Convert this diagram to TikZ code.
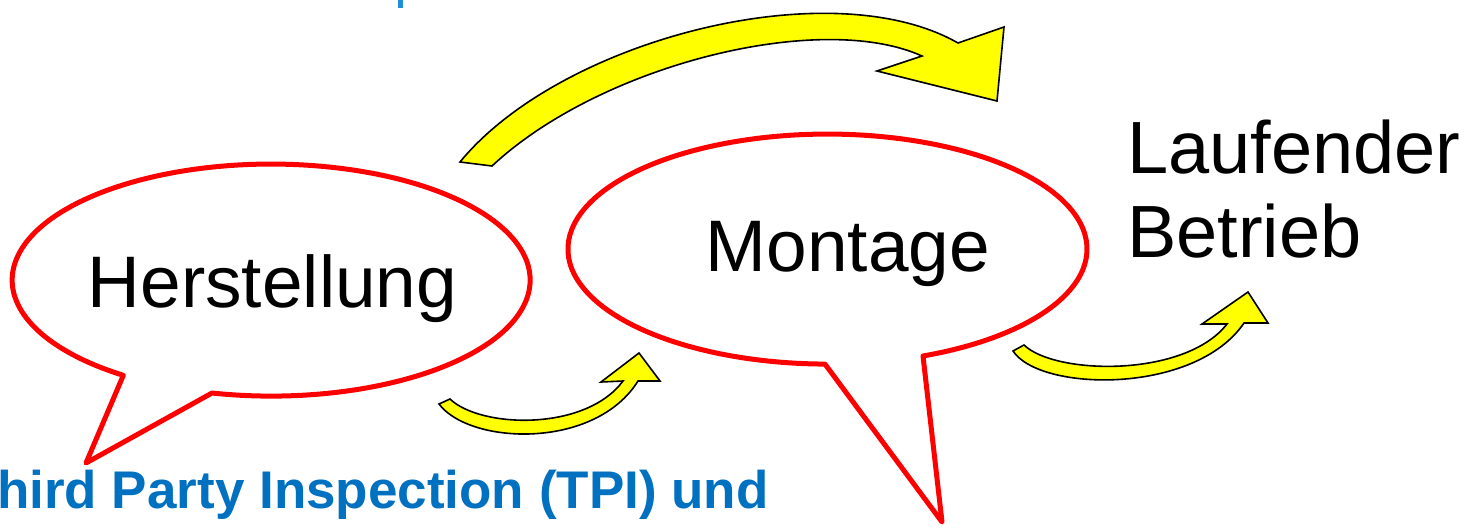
\documentclass[tikz,border=0pt]{standalone}
\usepackage{fontspec}
\setmainfont{Liberation Sans}
\definecolor{tpiblue}{HTML}{0070C0}
\definecolor{lineblue}{HTML}{1E8FD5}
\definecolor{calloutred}{HTML}{FF0000}
\definecolor{arrowyellow}{HTML}{FFFF00}
\tikzset{
  callout/.style={draw=calloutred, line width=5pt, fill=white, line join=round},
  bentarrow/.style={draw=black, line width=1.6pt, fill=arrowyellow, line join=miter},
  biglabel/.style={font=\fontsize{73}{84}\selectfont, inner sep=0pt},
  notelabel/.style={font=\fontsize{53}{60}\selectfont\bfseries, text=tpiblue, inner sep=0pt},
}
\begin{document}
\begin{tikzpicture}[x=1pt, y=-1pt]
  \useasboundingbox (0,0) rectangle (1475,528);
  \clip (0,0) rectangle (1475,528);

  % stroke of a line of text running off the top edge
  \fill[lineblue] (398,0) rectangle (402.5,8);

  % speech bubble: Herstellung
  \draw[callout] (212,393)
    arc[start angle=103.2, end angle=-235.2, x radius=259, y radius=116]
    -- (86,463) -- cycle;
  \node[biglabel, anchor=base] (herstellung) at (272.5,307) {Herstellung};

  % speech bubble: Montage
  \draw[callout] (923,356)
    arc[start angle=68.4, end angle=-269.45, x radius=259.5, y radius=115]
    -- (942,522) -- cycle;
  \node[biglabel, anchor=base] (montage) at (848,271) {Montage};

  % final stage
  \node[biglabel, anchor=base west, font=\fontsize{74}{84}\selectfont] (laufender) at (1127,173) {Laufender};
  \node[biglabel, anchor=base west, font=\fontsize{74}{84}\selectfont] (betrieb) at (1127,257) {Betrieb};

  % large curved arrow over the Montage bubble
  \draw[bentarrow] (460,162)
    .. controls (560,40) and (830,-30) .. (958,43)
    -- (1004,27) -- (997,101) -- (877,71) -- (922,56)
    .. controls (820,10) and (600,65) .. (492,166)
    -- cycle;

  % small curved arrow: Herstellung to Montage
  \draw[bentarrow] (439,404)
    .. controls (470,445) and (595,450) .. (638,381)
    -- (660,381) -- (639,353) -- (601,382) -- (623,381)
    .. controls (585,432) and (480,428) .. (450,399)
    -- cycle;

  % small curved arrow: Montage to Laufender Betrieb
  \draw[bentarrow] (1013,351)
    .. controls (1040,392) and (1195,395) .. (1244,323)
    -- (1268,323) -- (1248,292) -- (1202,324) -- (1227,324)
    .. controls (1185,378) and (1055,375) .. (1024,345)
    -- cycle;

  % caption line along the bottom
  \node[notelabel, anchor=base west] (tpi) at (-3,508) {hird Party Inspection (TPI) und};
\end{tikzpicture}
\end{document}
